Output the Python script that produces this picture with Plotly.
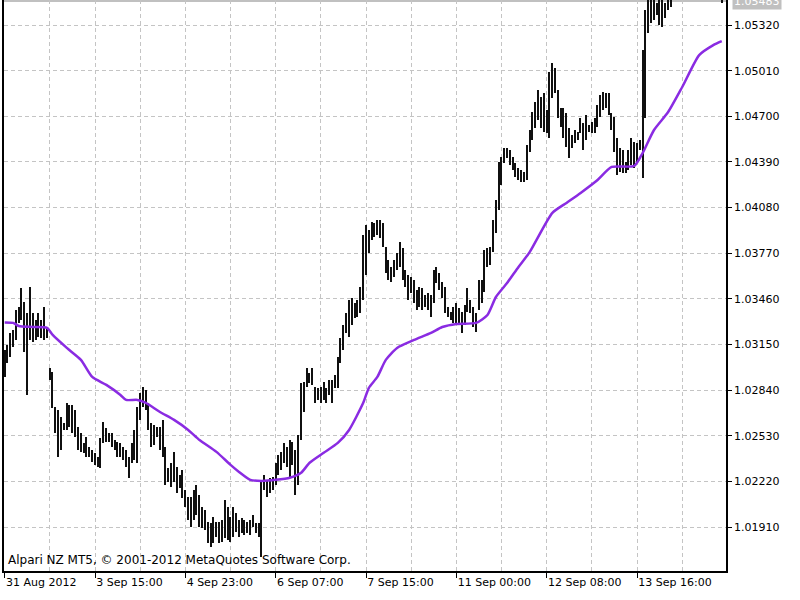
import plotly.graph_objects as go

# ---- data (H1 bars, 31 Aug - 14 Sep 2012) ----
highs = [
    1.03114, 1.03147, 1.03229, 1.03249, 1.03385, 1.03405, 1.03535, 1.03439, 1.03365, 1.03541,
    1.03365, 1.03317, 1.03365, 1.03317, 1.03405, 1.03263, 1.02992, 1.02964, 1.02726, 1.02706,
    1.02658, 1.02618, 1.02754, 1.02740, 1.02740, 1.02706, 1.02590, 1.02550, 1.02482, 1.02522,
    1.02454, 1.02435, 1.02415, 1.02387, 1.02516, 1.02624, 1.02584, 1.02550, 1.02550, 1.02502,
    1.02488, 1.02482, 1.02454, 1.02435, 1.02387, 1.02482, 1.02570, 1.02726, 1.02822, 1.02862,
    1.02842, 1.02754, 1.02618, 1.02604, 1.02590, 1.02590, 1.02638, 1.02454, 1.02313, 1.02347,
    1.02421, 1.02319, 1.02265, 1.02299, 1.02163, 1.02115, 1.02115, 1.02163, 1.02197, 1.02129,
    1.02047, 1.02027, 1.01945, 1.01939, 1.01979, 1.01945, 1.01945, 1.01959, 1.02095, 1.02047,
    1.01979, 1.02047, 1.02007, 1.01959, 1.01973, 1.01959, 1.01945, 1.01959, 1.01993, 1.01939,
    1.01939, 1.02231, 1.02265, 1.02231, 1.02245, 1.02251, 1.02347, 1.02401, 1.02421, 1.02482,
    1.02454, 1.02502, 1.02488, 1.02435, 1.02536, 1.02890, 1.02896, 1.02992, 1.02958, 1.02992,
    1.02862, 1.02856, 1.02862, 1.02896, 1.02856, 1.02910, 1.02910, 1.02944, 1.03066, 1.03195,
    1.03283, 1.03365, 1.03453, 1.03467, 1.03433, 1.03453, 1.03541, 1.03894, 1.03962, 1.03928,
    1.03982, 1.03976, 1.03996, 1.03996, 1.03976, 1.03812, 1.03725, 1.03677, 1.03725, 1.03773,
    1.03846, 1.03806, 1.03657, 1.03623, 1.03609, 1.03589, 1.03521, 1.03541, 1.03535, 1.03487,
    1.03501, 1.03487, 1.03657, 1.03677, 1.03637, 1.03575, 1.03541, 1.03405, 1.03371, 1.03405,
    1.03433, 1.03399, 1.03371, 1.03419, 1.03535, 1.03453, 1.03405, 1.03365, 1.03589, 1.03589,
    1.03793, 1.03806, 1.03812, 1.03996, 1.04132, 1.04390, 1.04424, 1.04485, 1.04485, 1.04472,
    1.04424, 1.04384, 1.04350, 1.04336, 1.04322, 1.04505, 1.04607, 1.04729, 1.04797, 1.04879,
    1.04831, 1.04859, 1.04743, 1.05001, 1.05063, 1.05029, 1.04879, 1.04757, 1.04757, 1.04723,
    1.04621, 1.04573, 1.04607, 1.04593, 1.04689, 1.04655, 1.04709, 1.04641, 1.04661, 1.04689,
    1.04777, 1.04845, 1.04865, 1.04859, 1.04859, 1.04723, 1.04695, 1.04553, 1.04485, 1.04472,
    1.04390, 1.04472, 1.04553, 1.04525, 1.04519, 1.04539, 1.05150, 1.05422, 1.05530, 1.05520,
    1.05510, 1.05470, 1.05540, 1.05530, 1.05470, 1.05520, 1.05560, 1.05575, 1.05610, 1.05640,
    1.05620, 1.05660, 1.05690, 1.05670, 1.05650, 1.05680, 1.05700, 1.05660, 1.05630, 1.05650,
    1.05620, 1.05600, 1.05590, 1.05580, 1.05560,
]
lows = [
    1.02930, 1.03026, 1.03066, 1.03133, 1.03181, 1.03297, 1.03317, 1.03100, 1.02808, 1.03181,
    1.03167, 1.03181, 1.03201, 1.03195, 1.03181, 1.03195, 1.02910, 1.02720, 1.02550, 1.02387,
    1.02435, 1.02570, 1.02570, 1.02590, 1.02550, 1.02522, 1.02435, 1.02421, 1.02415, 1.02387,
    1.02387, 1.02353, 1.02333, 1.02319, 1.02313, 1.02482, 1.02488, 1.02488, 1.02454, 1.02435,
    1.02387, 1.02387, 1.02367, 1.02319, 1.02245, 1.02347, 1.02367, 1.02347, 1.02638, 1.02726,
    1.02706, 1.02570, 1.02454, 1.02468, 1.02522, 1.02435, 1.02387, 1.02197, 1.02217, 1.02183,
    1.02217, 1.02143, 1.02177, 1.02109, 1.02047, 1.01959, 1.01911, 1.01959, 1.01993, 1.01911,
    1.01905, 1.01891, 1.01803, 1.01775, 1.01803, 1.01843, 1.01803, 1.01809, 1.01837, 1.01823,
    1.01809, 1.01843, 1.01877, 1.01843, 1.01871, 1.01857, 1.01871, 1.01857, 1.01911, 1.01871,
    1.01843, 1.01708, 1.02163, 1.02115, 1.02143, 1.02163, 1.02197, 1.02265, 1.02299, 1.02347,
    1.02319, 1.02251, 1.02333, 1.02129, 1.02197, 1.02502, 1.02692, 1.02862, 1.02890, 1.02876,
    1.02754, 1.02774, 1.02754, 1.02774, 1.02754, 1.02808, 1.02754, 1.02856, 1.02856, 1.03026,
    1.03114, 1.03229, 1.03201, 1.03283, 1.03331, 1.03337, 1.03365, 1.03453, 1.03623, 1.03773,
    1.03860, 1.03880, 1.03894, 1.03874, 1.03812, 1.03637, 1.03589, 1.03575, 1.03609, 1.03657,
    1.03677, 1.03589, 1.03541, 1.03453, 1.03501, 1.03433, 1.03385, 1.03405, 1.03385, 1.03405,
    1.03385, 1.03337, 1.03433, 1.03569, 1.03521, 1.03467, 1.03365, 1.03337, 1.03317, 1.03297,
    1.03297, 1.03283, 1.03229, 1.03283, 1.03371, 1.03365, 1.03269, 1.03235, 1.03385, 1.03433,
    1.03507, 1.03677, 1.03691, 1.03779, 1.03908, 1.04064, 1.04234, 1.04384, 1.04418, 1.04370,
    1.04336, 1.04288, 1.04268, 1.04254, 1.04254, 1.04268, 1.04458, 1.04539, 1.04621, 1.04675,
    1.04621, 1.04593, 1.04587, 1.04553, 1.04825, 1.04859, 1.04689, 1.04627, 1.04553, 1.04491,
    1.04418, 1.04485, 1.04519, 1.04539, 1.04587, 1.04472, 1.04539, 1.04593, 1.04587, 1.04587,
    1.04627, 1.04695, 1.04743, 1.04757, 1.04709, 1.04607, 1.04458, 1.04302, 1.04322, 1.04316,
    1.04316, 1.04336, 1.04370, 1.04350, 1.04384, 1.04472, 1.04282, 1.04689, 1.05266, 1.05334,
    1.05354, 1.05388, 1.05320, 1.05306, 1.05368, 1.05422, 1.05442, 1.05505, 1.05520, 1.05560,
    1.05540, 1.05570, 1.05600, 1.05580, 1.05560, 1.05590, 1.05610, 1.05580, 1.05550, 1.05570,
    1.05540, 1.05520, 1.05510, 1.05505, 1.05470,
]

# moving average (purple line), sampled at these bar numbers
ma_bar = [0, 3, 5, 10, 15, 17, 22, 27, 31, 36, 41, 43, 47, 50, 55, 60, 65, 69, 75, 80,
          83, 87, 91, 96, 101, 105, 108, 113, 118, 122, 127, 129, 132, 135, 139, 145, 151,
          155, 160, 167, 171, 174, 178, 182, 186, 194, 199, 204, 210, 215, 223, 226, 230,
          235, 240, 246, 251, 254]
ma_val = [1.03300, 1.03297, 1.03276, 1.03269, 1.03263, 1.03215, 1.03127, 1.03046, 1.02930,
          1.02876, 1.02808, 1.02774, 1.02774, 1.02754, 1.02692, 1.02638, 1.02570, 1.02502,
          1.02421, 1.02333, 1.02285, 1.02231, 1.02224, 1.02231, 1.02245, 1.02279, 1.02347,
          1.02415, 1.02482, 1.02570, 1.02754, 1.02856, 1.02930, 1.03046, 1.03127, 1.03181,
          1.03229, 1.03269, 1.03290, 1.03297, 1.03351, 1.03473, 1.03569, 1.03677, 1.03779,
          1.04044, 1.04112, 1.04180, 1.04268, 1.04356, 1.04363, 1.04452, 1.04607, 1.04729,
          1.04899, 1.05116, 1.05184, 1.05211]

x_tick_bars = [0, 32, 64, 96, 128, 160, 192, 224]
x_tick_labels = ["31 Aug 2012", "3 Sep 15:00", "4 Sep 23:00", "6 Sep 07:00",
                 "7 Sep 15:00", "11 Sep 00:00", "12 Sep 08:00", "13 Sep 16:00"]
y_ticks = [1.01910, 1.02220, 1.02530, 1.02840, 1.03150, 1.03460,
           1.03770, 1.04080, 1.04390, 1.04700, 1.05010, 1.05320]
last_price = 1.05483
copyright_text = "Alpari NZ MT5, © 2001-2012 MetaQuotes Software Corp."

FONT = "DejaVu Sans"
GRID = "#C4C4C4"

idx = list(range(len(highs)))
ranges = [h - l for h, l in zip(highs, lows)]

fig = go.Figure()
fig.add_trace(go.Bar(
    x=idx, y=ranges, base=lows, width=0.5,
    marker=dict(color="#101010", line=dict(width=0)),
    hoverinfo="skip",
))
fig.add_trace(go.Scatter(
    x=ma_bar, y=ma_val, mode="lines",
    line=dict(color="#8A2BE2", width=2.5, shape="spline", smoothing=0.6),
    hoverinfo="skip",
))

# bid line and price label
fig.add_shape(type="line", xref="paper", x0=0, x1=1, yref="y",
              y0=last_price, y1=last_price,
              line=dict(color="#C0C0C0", width=2), layer="below")
fig.add_annotation(x=1, xref="paper", xanchor="left", xshift=6,
                   y=last_price, yref="y", yanchor="middle",
                   text=f"{last_price:.5f}", showarrow=False,
                   bgcolor="#C0C0C0", borderpad=1,
                   font=dict(family=FONT, size=11, color="white"))
fig.add_annotation(x=0, xref="paper", xanchor="left", xshift=2,
                   y=0, yref="paper", yanchor="bottom", yshift=2,
                   text=copyright_text, showarrow=False,
                   font=dict(family=FONT, size=12, color="black"))

fig.update_layout(
    width=800, height=600,
    margin=dict(l=4, r=74, t=0, b=29),
    paper_bgcolor="white", plot_bgcolor="white",
    showlegend=False, bargap=0,
    font=dict(family=FONT, size=11, color="black"),
)
fig.update_xaxes(
    range=[-0.25, 255.5],
    tickmode="array", tickvals=x_tick_bars, ticktext=x_tick_labels,
    ticks="outside", ticklen=5, tickcolor="black", tickwidth=1,
    ticklabelposition="outside right",
    showline=True, linecolor="black", linewidth=1.5,
    showgrid=True, gridcolor=GRID, gridwidth=1, griddash="4px,3px",
    minor=dict(tickmode="linear", tick0=0, dtick=16, showgrid=True,
               gridcolor=GRID, gridwidth=1, griddash="4px,3px", ticks=""),
    zeroline=False, fixedrange=True,
)
fig.update_yaxes(
    range=[1.01612, 1.05490], side="right",
    tickmode="array", tickvals=y_ticks, tickformat=".5f",
    ticks="outside", ticklen=4, tickcolor="black", tickwidth=1,
    showline=True, mirror=True, linecolor="black", linewidth=1.5,
    showgrid=True, gridcolor=GRID, gridwidth=1, griddash="4px,3px",
    zeroline=False, fixedrange=True,
)

fig.write_html("out.html")
